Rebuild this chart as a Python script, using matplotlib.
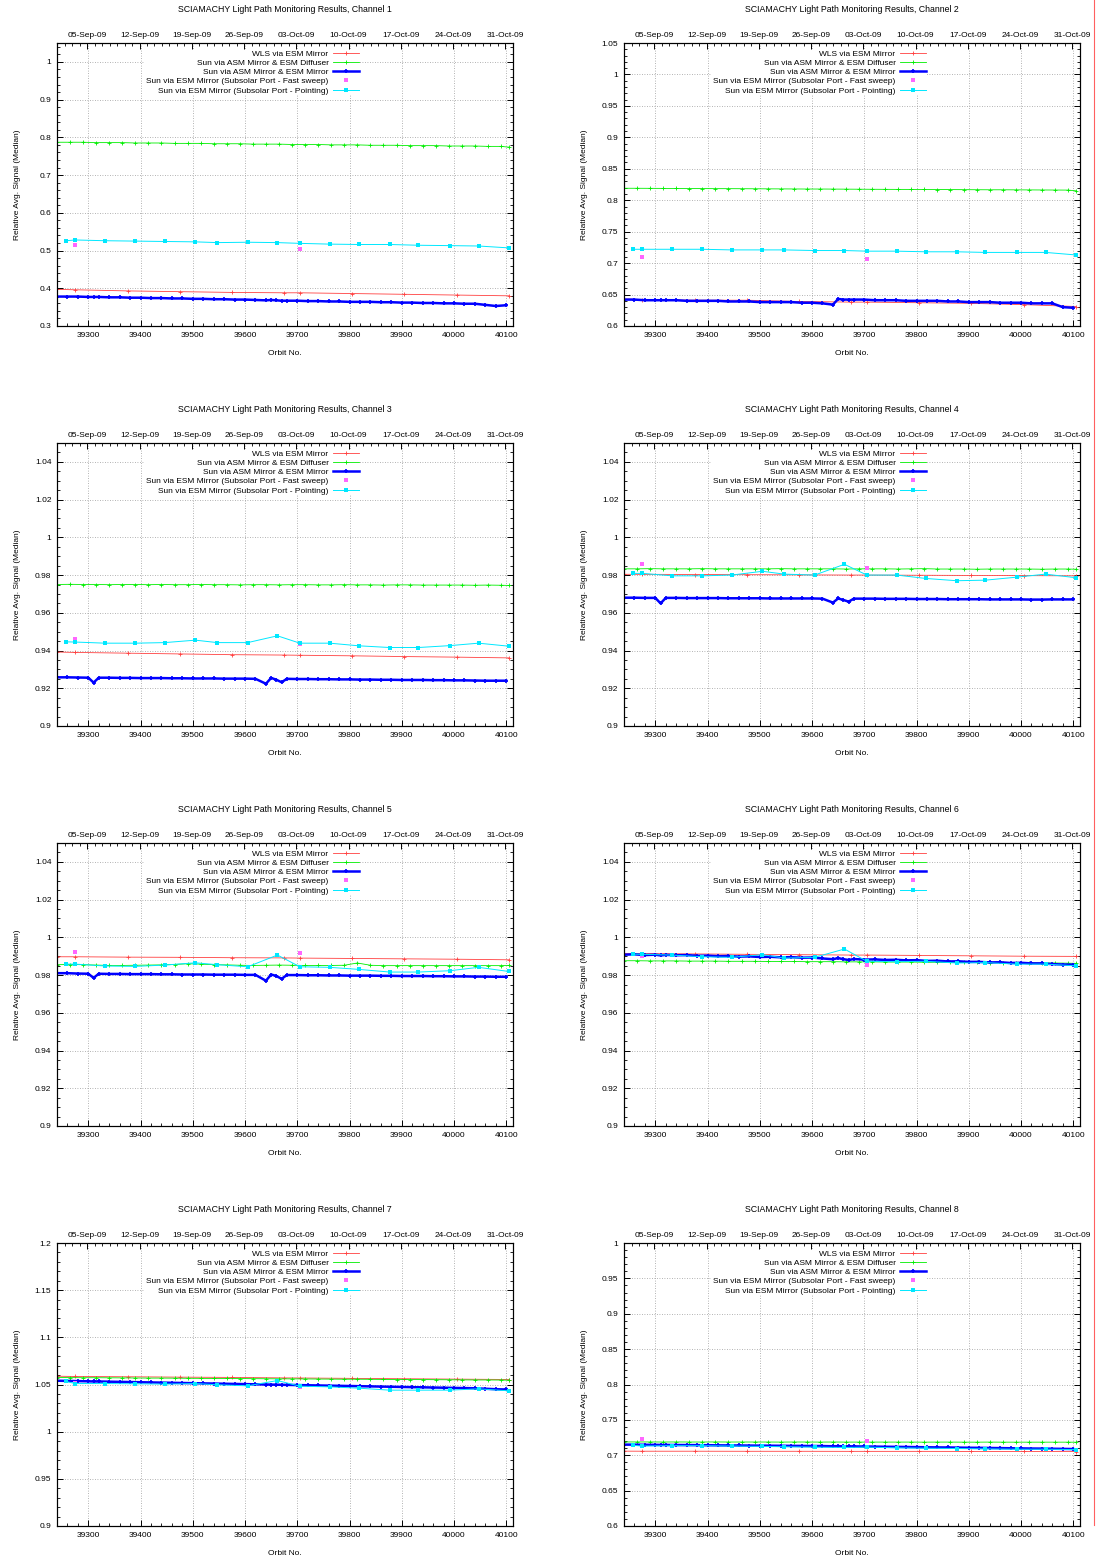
import matplotlib
matplotlib.use('Agg')
import matplotlib.pyplot as plt
from matplotlib.ticker import MultipleLocator, FixedLocator
from matplotlib.lines import Line2D

plt.rcParams['font.family'] = ['Liberation Sans', 'DejaVu Sans']
plt.rcParams['font.size'] = 6

# ---- data ----
series_names = ['WLS via ESM Mirror',
                'Sun via ASM Mirror & ESM Diffuser',
                'Sun via ASM Mirror & ESM Mirror',
                'Sun via ESM Mirror (Subsolar Port - Fast sweep)',
                'Sun via ESM Mirror (Subsolar Port - Pointing)']

date_labels = ['05-Sep-09', '12-Sep-09', '19-Sep-09', '26-Sep-09', '03-Oct-09',
               '10-Oct-09', '17-Oct-09', '24-Oct-09', '31-Oct-09']

red_orbits = [39240, 39275, 39375, 39475, 39575, 39675, 39705, 39805, 39905, 40005, 40105]
green_orbits = [39240, 39265, 39290, 39315, 39340, 39365, 39390, 39415, 39440, 39465,
                39490, 39515, 39540, 39565, 39590, 39615, 39640, 39665, 39690, 39715,
                39740, 39765, 39790, 39815, 39840, 39865, 39890, 39915, 39940, 39965,
                39990, 40015, 40040, 40065, 40090, 40105]
blue_orbits = [39240, 39260, 39280, 39300, 39310, 39320, 39340, 39360, 39380, 39400,
               39420, 39440, 39460, 39480, 39500, 39520, 39540, 39560, 39580, 39600,
               39620, 39640, 39650, 39660, 39670, 39680, 39700, 39720, 39740, 39760,
               39780, 39800, 39820, 39840, 39860, 39880, 39900, 39920, 39940, 39960,
               39980, 40000, 40020, 40040, 40060, 40080, 40100]
magenta_orbits = [39275, 39705]
cyan_orbits = [39258, 39275, 39332, 39390, 39446, 39505, 39547, 39605, 39662, 39705,
               39762, 39818, 39877, 39932, 39992, 40047, 40105]

# channel 1
red_ch1 = [.397, .396, .393, .391, .389, .388, .388, .386, .384, .382, .380]
green_ch1 = [.787, .787, .787, .786, .786, .786, .785, .785, .785, .784, .784, .784,
             .783, .783, .783, .782, .782, .782, .781, .781, .781, .780, .780, .780,
             .779, .779, .779, .778, .778, .778, .777, .777, .777, .776, .776, .774]
blue_ch1 = [.378, .378, .378, .377, .377, .377, .376, .376, .375, .375, .374, .374,
            .373, .373, .372, .372, .371, .371, .370, .370, .369, .368, .369, .368,
            .367, .367, .367, .366, .366, .365, .365, .364, .364, .364, .363, .363,
            .362, .362, .361, .361, .360, .360, .359, .359, .356, .353, .355]
magenta_ch1 = [.515, .503]
cyan_ch1 = [.526, .528, .526, .525, .524, .523, .521, .522, .521, .519, .517, .516,
            .516, .514, .513, .512, .507]

# channel 2
red_ch2 = [.643, .642, .641, .641, .639, .638, .638, .637, .636, .634, .631]
green_ch2 = [.8190, .8190, .8189, .8188, .8187, .8186, .8185, .8184, .8184, .8183,
             .8182, .8181, .8180, .8179, .8178, .8178, .8177, .8176, .8175, .8174,
             .8173, .8172, .8172, .8171, .8170, .8169, .8168, .8167, .8166, .8166,
             .8165, .8164, .8163, .8162, .8161, .8150]
blue_ch2 = [.642, .642, .641, .641, .641, .641, .641, .640, .640, .640, .640, .639,
            .639, .639, .638, .638, .638, .638, .637, .637, .636, .634, .643, .642,
            .642, .642, .642, .641, .641, .641, .640, .640, .640, .640, .639, .639,
            .638, .638, .638, .637, .637, .637, .636, .636, .636, .630, .629]
magenta_ch2 = [.709, .706]
cyan_ch2 = [.722, .722, .722, .722, .721, .721, .721, .720, .720, .719, .719, .718,
            .718, .717, .717, .717, .713]

# channel 3
red_ch3 = [.9392, .9390, .9386, .9382, .9378, .9376, .9375, .9372, .9368, .9365, .9361]
green_ch3 = [.9750, .9751, .9750, .9750, .9749, .9750, .9750, .9749, .9750, .9749,
             .9749, .9750, .9749, .9749, .9748, .9749, .9749, .9748, .9749, .9749,
             .9748, .9748, .9749, .9748, .9748, .9747, .9748, .9748, .9747, .9747,
             .9747, .9747, .9746, .9747, .9746, .9745]
blue_ch3 = [.9258, .9258, .9257, .9256, .9230, .9256, .9256, .9255, .9255, .9254,
            .9254, .9254, .9253, .9253, .9252, .9252, .9252, .9251, .9251, .9251,
            .9250, .9224, .9255, .9245, .9232, .9250, .9249, .9249, .9248, .9248,
            .9247, .9247, .9246, .9246, .9245, .9245, .9244, .9244, .9244, .9243,
            .9243, .9242, .9242, .9241, .9240, .9240, .9240]
magenta_ch3 = [.9460, .9437]
cyan_ch3 = [.9446, .9445, .9439, .9439, .9442, .9455, .9442, .9442, .9478, .9439,
            .9439, .9425, .9416, .9416, .9426, .9439, .9423]

# channel 4
red_ch4 = [.9804, .9804, .9803, .9802, .9801, .9800, .9800, .9799, .9798, .9797, .9796]
green_ch4 = [.9833, .9833, .9834, .9833, .9833, .9833, .9834, .9833, .9833, .9833,
             .9833, .9833, .9834, .9833, .9833, .9833, .9833, .9832, .9833, .9833,
             .9833, .9832, .9833, .9834, .9832, .9832, .9832, .9831, .9832, .9832,
             .9832, .9832, .9831, .9832, .9832, .9831]
blue_ch4 = [.9680, .9680, .9679, .9679, .9650, .9679, .9679, .9678, .9678, .9678,
            .9678, .9677, .9677, .9677, .9677, .9676, .9676, .9676, .9676, .9676,
            .9675, .9654, .9676, .9668, .9659, .9675, .9675, .9675, .9674, .9674,
            .9674, .9673, .9673, .9673, .9672, .9672, .9672, .9672, .9671, .9671,
            .9671, .9671, .9670, .9670, .9671, .9671, .9671]
magenta_ch4 = [.9859, .9836]
cyan_ch4 = [.9809, .9809, .9796, .9796, .9800, .9820, .9805, .9800, .9857, .9800,
            .9800, .9782, .9770, .9773, .9789, .9805, .9786]

# channel 5
red_ch5 = [.9897, .9897, .9895, .9894, .9892, .9891, .9890, .9888, .9886, .9884, .9881]
green_ch5 = [.9855, .9856, .9855, .9853, .9851, .9851, .9852, .9853, .9854, .9856,
             .9860, .9858, .9855, .9854, .9852, .9851, .9852, .9853, .9852, .9851,
             .9851, .9851, .9852, .9864, .9852, .9850, .9850, .9850, .9850, .9850,
             .9850, .9850, .9850, .9850, .9850, .9851]
blue_ch5 = [.9810, .9810, .9808, .9807, .9785, .9807, .9806, .9806, .9805, .9805,
            .9805, .9804, .9804, .9803, .9803, .9803, .9802, .9802, .9802, .9801,
            .9801, .9770, .9803, .9795, .9780, .9800, .9800, .9799, .9799, .9798,
            .9798, .9797, .9797, .9797, .9796, .9796, .9795, .9795, .9795, .9794,
            .9794, .9793, .9793, .9792, .9792, .9791, .9791]
magenta_ch5 = [.9920, .9917]
cyan_ch5 = [.9858, .9858, .9848, .9846, .9853, .9865, .9855, .9844, .9906, .9844,
            .9841, .9830, .9816, .9816, .9823, .9841, .9819]

# channel 6
red_ch6 = [.9915, .9914, .9912, .9910, .9908, .9906, .9906, .9904, .9902, .9900, .9899]
green_ch6 = [.9876, .9876, .9875, .9875, .9875, .9874, .9874, .9874, .9873, .9873,
             .9873, .9872, .9872, .9872, .9871, .9871, .9871, .9870, .9870, .9870,
             .9869, .9869, .9869, .9868, .9868, .9867, .9867, .9867, .9866, .9866,
             .9865, .9865, .9864, .9864, .9863, .9862]
blue_ch6 = [.9908, .9910, .9906, .9908, .9904, .9907, .9905, .9906, .9902, .9903,
            .9900, .9901, .9898, .9899, .9896, .9897, .9894, .9895, .9892, .9893,
            .9888, .9884, .9890, .9884, .9880, .9885, .9882, .9883, .9880, .9881,
            .9878, .9879, .9875, .9876, .9872, .9873, .9870, .9870, .9867, .9868,
            .9864, .9865, .9862, .9862, .9858, .9856, .9855]
magenta_ch6 = [.9902, .9855]
cyan_ch6 = [.9911, .9910, .9906, .9897, .9894, .9908, .9890, .9894, .9938, .9873,
            .9871, .9873, .9864, .9866, .9858, .9858, .9849]

# channel 7
red_ch7 = [1.0588, 1.0585, 1.0582, 1.0578, 1.0575, 1.0570, 1.0569, 1.0565, 1.0561, 1.0557, 1.0553]
green_ch7 = [1.0574, 1.0573, 1.0572, 1.0572, 1.0571, 1.0570, 1.0569, 1.0568, 1.0568, 1.0567,
             1.0566, 1.0565, 1.0564, 1.0564, 1.0563, 1.0562, 1.0561, 1.0560, 1.0560, 1.0559,
             1.0558, 1.0557, 1.0556, 1.0556, 1.0555, 1.0554, 1.0553, 1.0552, 1.0552, 1.0551,
             1.0550, 1.0549, 1.0548, 1.0548, 1.0547, 1.0546]
blue_ch7 = [1.0540, 1.0538, 1.0536, 1.0534, 1.0532, 1.0532, 1.0530, 1.0528, 1.0526, 1.0524,
            1.0522, 1.0520, 1.0518, 1.0516, 1.0514, 1.0512, 1.0510, 1.0508, 1.0506, 1.0504,
            1.0502, 1.0500, 1.0499, 1.0498, 1.0497, 1.0496, 1.0494, 1.0492, 1.0490, 1.0488,
            1.0486, 1.0484, 1.0482, 1.0480, 1.0478, 1.0476, 1.0474, 1.0472, 1.0470, 1.0468,
            1.0466, 1.0464, 1.0462, 1.0460, 1.0455, 1.0450, 1.0447]
magenta_ch7 = [1.0520, 1.0470]
cyan_ch7 = [1.0532, 1.0510, 1.0510, 1.0507, 1.0504, 1.0510, 1.0497, 1.0486, 1.0542, 1.0482,
            1.0475, 1.0461, 1.0440, 1.0440, 1.0440, 1.0454, 1.0433]

# channel 8
red_ch8 = [.7058, .7057, .7057, .7056, .7056, .7055, .7055, .7055, .7054, .7054, .7053]
green_ch8 = [.7188, .7188, .7188, .7187, .7188, .7187, .7187, .7188, .7187, .7187,
             .7187, .7187, .7186, .7187, .7187, .7186, .7187, .7186, .7186, .7186,
             .7186, .7186, .7186, .7185, .7186, .7186, .7185, .7185, .7186, .7185,
             .7185, .7185, .7185, .7185, .7185, .7184]
blue_ch8 = [.7150, .7150, .7148, .7147, .7146, .7146, .7145, .7144, .7143, .7142,
            .7140, .7139, .7138, .7137, .7136, .7135, .7134, .7133, .7132, .7131,
            .7130, .7127, .7128, .7127, .7126, .7125, .7124, .7122, .7120, .7119,
            .7117, .7115, .7113, .7111, .7110, .7108, .7106, .7105, .7103, .7101,
            .7099, .7097, .7095, .7094, .7092, .7090, .7088]
magenta_ch8 = [.7234, .7206]
cyan_ch8 = [.7140, .7130, .7135, .7135, .7130, .7125, .7120, .7115, .7110, .7115,
            .7105, .7100, .7095, .7090, .7085, .7085, .7080]

y_ranges = [(0.3, 1.05), (0.6, 1.05), (0.9, 1.05), (0.9, 1.05),
            (0.9, 1.05), (0.9, 1.05), (0.9, 1.2), (0.6, 1.0)]
y_major = [0.1, 0.05, 0.02, 0.02, 0.02, 0.02, 0.05, 0.05]
y_minor = [0.02, 0.01, 0.005, 0.005, 0.005, 0.005, 0.01, 0.01]

reds = [red_ch1, red_ch2, red_ch3, red_ch4, red_ch5, red_ch6, red_ch7, red_ch8]
greens = [green_ch1, green_ch2, green_ch3, green_ch4, green_ch5, green_ch6, green_ch7, green_ch8]
blues = [blue_ch1, blue_ch2, blue_ch3, blue_ch4, blue_ch5, blue_ch6, blue_ch7, blue_ch8]
magentas = [magenta_ch1, magenta_ch2, magenta_ch3, magenta_ch4,
            magenta_ch5, magenta_ch6, magenta_ch7, magenta_ch8]
cyans = [cyan_ch1, cyan_ch2, cyan_ch3, cyan_ch4, cyan_ch5, cyan_ch6, cyan_ch7, cyan_ch8]

# ---- layout (pixels) ----
W, H = 1099, 1556
col_x = [57, 624]
row_top = [43, 443, 843, 1243]
ax_w, ax_h = 456, 283
x_lim = (39240, 40113)
first_date_orbit = 39298      # orbit at 05-Sep-09
orbits_per_day = 14.29

fig = plt.figure(figsize=(W / 100, H / 100), dpi=100)

for i in range(8):
    r, c = divmod(i, 2)
    ax = fig.add_axes([col_x[c] / W, 1 - (row_top[r] + ax_h) / H, ax_w / W, ax_h / H])

    ax.plot(red_orbits, reds[i], color='#ff4040', lw=0.6, marker='+', ms=2.5, mew=0.6,
            label=series_names[0])
    ax.plot(green_orbits, greens[i], color='#00ee00', lw=0.6, marker='+', ms=2.5, mew=0.6,
            label=series_names[1])
    ax.plot(blue_orbits, blues[i], color='#0000ff', lw=1.8, marker='+', ms=3.5, mew=1.2,
            label=series_names[2])
    ax.plot(magenta_orbits, magentas[i], color='#ff66ff', lw=0, marker='s', ms=2.6,
            mew=0, label=series_names[3])
    ax.plot(cyan_orbits, cyans[i], color='#00e8ff', lw=0.7, marker='s', ms=2.8, mew=0,
            label=series_names[4])

    ax.set_xlim(*x_lim)
    ax.set_ylim(*y_ranges[i])
    ax.xaxis.set_major_locator(MultipleLocator(100))
    ax.xaxis.set_minor_locator(MultipleLocator(20))
    ax.yaxis.set_major_locator(MultipleLocator(y_major[i]))
    ax.yaxis.set_minor_locator(MultipleLocator(y_minor[i]))
    ax.yaxis.set_major_formatter(plt.FuncFormatter(lambda v, p: ('%.3f' % v).rstrip('0').rstrip('.')))
    ax.tick_params(which='both', direction='in', top=False, right=True, labelsize=6)
    ax.tick_params(which='major', length=4, width=0.7, pad=4)
    ax.tick_params(which='minor', length=2, width=0.6)
    ax.grid(True, which='major', color='#9a9a9a', linestyle=(0, (1, 2)), linewidth=0.6)
    for s in ax.spines.values():
        s.set_linewidth(0.8)

    ax.set_xlabel('Orbit No.', fontsize=6)
    ax.xaxis.set_label_coords(0.5, -24 / ax_h)
    ax.set_ylabel('Relative Avg. Signal (Median)', fontsize=6)
    ax.yaxis.set_label_coords(-36 / ax_w, 0.5)

    # date axis on top
    ax2 = ax.twiny()
    ax2.set_xlim(*x_lim)
    week_pos = [first_date_orbit + 7 * k * orbits_per_day for k in range(len(date_labels))]
    day_pos = [first_date_orbit + d * orbits_per_day for d in range(-4, 57)]
    ax2.xaxis.set_major_locator(FixedLocator(week_pos))
    ax2.set_xticklabels(date_labels)
    ax2.xaxis.set_minor_locator(FixedLocator(day_pos))
    ax2.tick_params(which='both', direction='in', labelsize=6)
    ax2.tick_params(which='major', length=4, width=0.7, pad=3)
    ax2.tick_params(which='minor', length=2, width=0.6)
    for s in ax2.spines.values():
        s.set_linewidth(0.8)

    leg = ax.legend(loc='upper right', bbox_to_anchor=(0.665, 0.978), markerfirst=False,
                    fontsize=6, frameon=True, fancybox=False, edgecolor='none',
                    facecolor='white', framealpha=1, borderpad=0.1, labelspacing=0.16,
                    handlelength=3.2, handletextpad=0.5, borderaxespad=0)
    leg.set_zorder(5)

    fig.text((col_x[c] + ax_w / 2) / W, 1 - (row_top[r] - 33) / H,
             'SCIAMACHY Light Path Monitoring Results, Channel %d' % (i + 1),
             ha='center', va='center', fontsize=6.3)

# thin red rule at the right edge
fig.add_artist(Line2D([1094 / W, 1094 / W], [0.02, 1.0], color='#ff6060', lw=0.8))

fig.savefig('out.png', dpi=100)
